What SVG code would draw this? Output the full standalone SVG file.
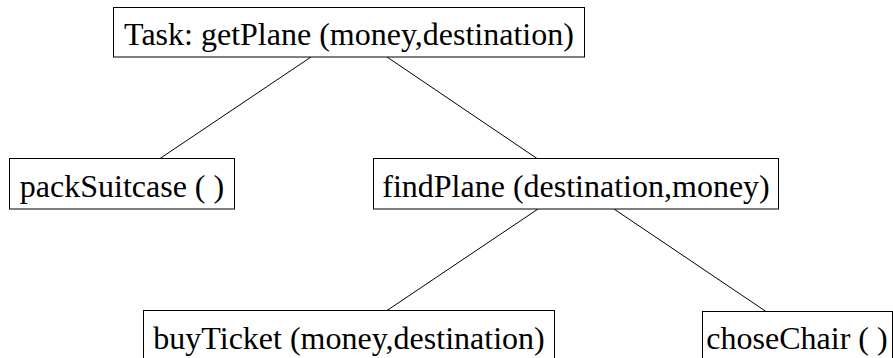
<svg xmlns="http://www.w3.org/2000/svg" width="893" height="358" viewBox="0 0 893 358">
<style>
.box{fill:#fff;stroke:#000;stroke-width:1}
.lbl{font-family:"Liberation Serif","Times New Roman",serif;font-size:32px;fill:#000;text-anchor:middle}
.edge{stroke:#000;stroke-width:1;fill:none}
</style>
<rect width="893" height="358" fill="#fff"/>
<g id="connectors">
<line class="edge" x1="311" y1="57" x2="160" y2="158.5"/>
<line class="edge" x1="387" y1="57" x2="537" y2="158.5"/>
<line class="edge" x1="538" y1="209" x2="387" y2="310.5"/>
<line class="edge" x1="614" y1="209" x2="766" y2="311.5"/>
</g>
<g id="task">
<rect class="box" x="113.5" y="7.5" width="471" height="49.5"/>
<text class="lbl" x="349" y="45">Task: getPlane (money,destination)</text>
</g>
<g id="packSuitcase">
<rect class="box" x="9.5" y="158.5" width="225" height="50.5"/>
<text class="lbl" x="122" y="197">packSuitcase ( )</text>
</g>
<g id="findPlane">
<rect class="box" x="373.5" y="158.5" width="405" height="50.5"/>
<text class="lbl" x="576" y="197">findPlane (destination,money)</text>
</g>
<g id="buyTicket">
<rect class="box" x="143.5" y="310.5" width="411" height="50"/>
<text class="lbl" x="349" y="349">buyTicket (money,destination)</text>
</g>
<g id="choseChair">
<rect class="box" x="702.5" y="311.5" width="190" height="50"/>
<text class="lbl" x="797" y="349">choseChair ( )</text>
</g>
</svg>
